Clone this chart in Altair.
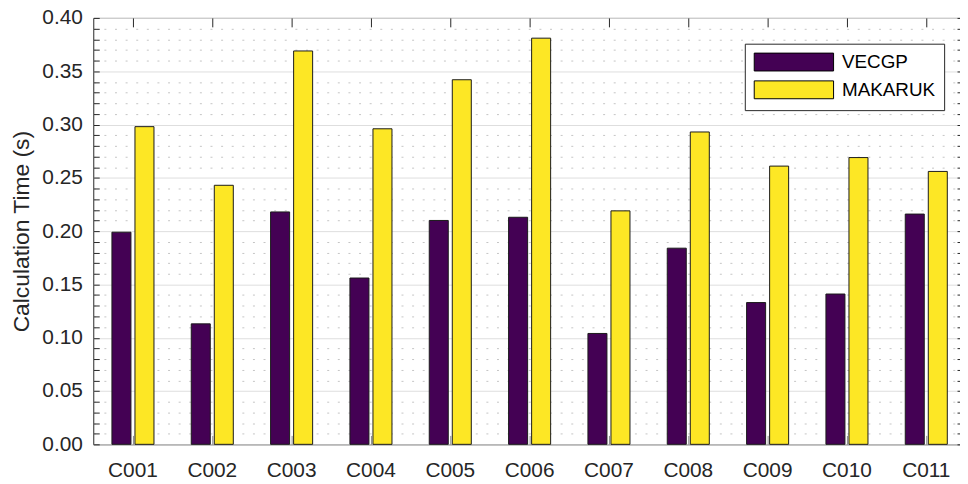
import altair as alt
import pandas as pd

cases = ["C001", "C002", "C003", "C004", "C005", "C006", "C007", "C008", "C009", "C010", "C011"]
vecgp = [0.199, 0.113, 0.218, 0.156, 0.210, 0.213, 0.104, 0.184, 0.133, 0.141, 0.216]
makaruk = [0.298, 0.243, 0.369, 0.296, 0.342, 0.381, 0.219, 0.293, 0.261, 0.269, 0.256]
methods = ["VECGP", "MAKARUK"]
colors = ["#440154", "#FDE725"]
major_ticks = [0.00, 0.05, 0.10, 0.15, 0.20, 0.25, 0.30, 0.35, 0.40]
all_ticks = [round(i * 0.01, 2) for i in range(41)]
minor_ticks = [t for t in all_ticks if t not in major_ticks]

rows = []
for c, v, m in zip(cases, vecgp, makaruk):
    rows.append({"case": c, "method": "VECGP", "value": v})
    rows.append({"case": c, "method": "MAKARUK", "value": m})
df = pd.DataFrame(rows)

FONT = "Liberation Sans"
DARK = "#262626"

x_scale = alt.Scale(domain=cases, paddingInner=0.47, paddingOuter=0.235)
y_scale = alt.Scale(domain=[0, 0.4], nice=False, zero=True)

base = alt.Chart(df)

minor_grid = base.mark_rule(opacity=0).encode(
    y=alt.Y("value:Q", scale=y_scale,
            axis=alt.Axis(orient="left", values=minor_ticks, grid=True,
                          gridDash=[2, 8.7], gridColor="#c4c4c4", gridWidth=1,
                          labels=False, ticks=False, domain=False, title=None))
)

bars = base.mark_bar(stroke="#1a1a1a", strokeWidth=1).encode(
    x=alt.X("case:N", scale=x_scale, sort=cases,
            axis=alt.Axis(orient="bottom", title=None, labelAngle=0, ticks=False,
                          domain=False, grid=False, labelFont=FONT, labelFontSize=21,
                          labelColor=DARK, labelPadding=15)),
    xOffset=alt.XOffset("method:N", sort=methods,
                        scale=alt.Scale(domain=methods, paddingInner=0.174, paddingOuter=0)),
    y=alt.Y("value:Q", scale=y_scale,
            axis=alt.Axis(orient="left", values=major_ticks, format=".2f", grid=True,
                          gridColor="#dedede", gridWidth=1, ticks=False, domain=False,
                          labelFont=FONT, labelFontSize=21, labelColor=DARK, labelPadding=11,
                          title="Calculation Time (s)", titleFont=FONT, titleFontSize=23,
                          titleFontWeight="normal", titleColor=DARK, titlePadding=8)),
    color=alt.Color("method:N", sort=methods,
                    scale=alt.Scale(domain=methods, range=colors),
                    legend=alt.Legend(title=None)),
)

left_ticks = base.mark_rule(opacity=0).encode(
    y=alt.Y("value:Q", scale=y_scale,
            axis=alt.Axis(orient="left", values=all_ticks, offset=-6, tickSize=6,
                          tickColor=DARK, tickWidth=1, labels=False, grid=False,
                          domain=False, title=None))
)
right_ticks = base.mark_rule(opacity=0).encode(
    y=alt.Y("value:Q", scale=y_scale,
            axis=alt.Axis(orient="right", values=all_ticks, offset=-9, tickSize=9,
                          tickColor=DARK, tickWidth=1, labels=False, grid=False,
                          domain=False, title=None))
)
top_ticks = base.mark_rule(opacity=0).encode(
    x=alt.X("case:N", scale=x_scale, sort=cases,
            axis=alt.Axis(orient="top", offset=-9, tickSize=9, tickColor=DARK,
                          tickWidth=1, labels=False, grid=False, domain=False,
                          title=None, bandPosition=0.5))
)
bottom_ticks = base.mark_rule(opacity=0).encode(
    x=alt.X("case:N", scale=x_scale, sort=cases,
            axis=alt.Axis(orient="bottom", offset=-9, tickSize=9, tickColor="#8a8a8a",
                          tickWidth=1, labels=False, grid=False, domain=False,
                          title=None, bandPosition=0.5))
)

chart = alt.layer(
    minor_grid, left_ticks, right_ticks, top_ticks, bottom_ticks, bars
).resolve_axis(
    x="independent", y="independent"
).properties(
    width=880, height=430,
    autosize=alt.AutoSizeParams(type="none"),
    padding={"left": 86, "top": 8, "right": -6, "bottom": 38},
).configure_view(
    stroke=DARK, strokeWidth=1
).configure_legend(
    orient="none", legendX=657, legendY=26,
    symbolType="M-1,-1L7.889,-1L7.889,1L-1,1Z",
    symbolSize=324, symbolStrokeColor="#000000", symbolStrokeWidth=1,
    symbolOpacity=1,
    labelFont=FONT, labelFontSize=19, labelColor="#000000", labelOffset=70,
    padding=9, strokeColor=DARK, fillColor="#ffffff", rowPadding=5,
)

chart.save("out.html", embed_options={"renderer": "svg", "actions": False})
